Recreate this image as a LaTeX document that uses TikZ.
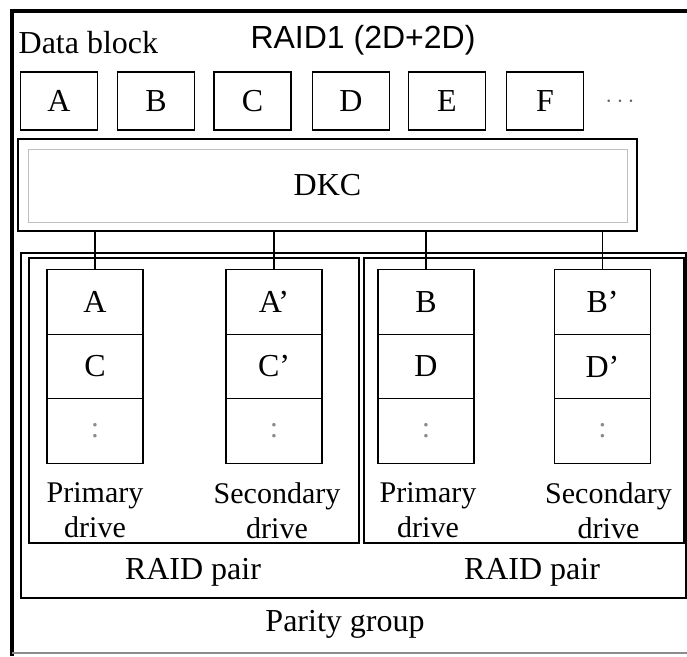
\documentclass[tikz,border=0pt]{standalone}
\usepackage{fontspec}
\setmainfont{Liberation Serif}
\newfontfamily\headfont{Liberation Sans}
\usetikzlibrary{positioning}

\begin{document}
\begin{tikzpicture}[x=1pt,y=-1pt,line width=1.3pt,
    blk/.style={draw,minimum width=77pt,minimum height=58pt,inner sep=0pt,font=\fontsize{32}{34}\selectfont},
    cell/.style={draw,minimum width=96pt,minimum height=64.5pt,inner sep=0pt,outer sep=0pt,font=\fontsize{32}{34}\selectfont},
    dotcell/.style={cell,text=black!45,font=\fontsize{30}{32}\selectfont},
    tag/.style={align=center,inner sep=0pt,font=\fontsize{30}{35}\selectfont},
    lbl/.style={inner sep=0pt,font=\fontsize{32}{34}\selectfont}]
        \useasboundingbox (0,0) rectangle (687,656);

        % frame
        \draw[line width=4pt] (12,656) -- (12,11) -- (687,11);
        \draw[black!45,line width=1.5pt] (12,653) -- (687,653);

        \node[lbl,anchor=west] (title) at (18,43) {Data block};
        \node[lbl,font=\headfont\fontsize{32}{34}\selectfont] (raid) at (363,40) {RAID1 (2D+2D)};

        % data blocks
        \node[blk] (dA) at (59,101) {A};
        \node[blk] (dB) at (156,101) {B};
        \node[blk] (dC) at (252.5,101) {C};
        \node[blk] (dD) at (351,101) {D};
        \node[blk] (dE) at (447,101) {E};
        \node[blk] (dF) at (545,101) {F};
        \node[text=black!60,font=\fontsize{26}{28}\selectfont] (more) at (620,102) {$\cdots$};

        % controller
        \draw[black!25,line width=0.6pt] (28,149) rectangle (627,222);
        \node[draw,minimum width=619pt,minimum height=92pt,inner sep=0pt,font=\fontsize{32}{34}\selectfont] (dkc) at (327.5,185) {DKC};

        % groups
        \draw (21,253) rectangle (686,598);
        \draw (29,258) rectangle (359,543);
        \draw (364,258) rectangle (684,543);

        % drives
        \node[cell] (p1a) at (95,302) {A};
        \node[cell] (p1b) [below=0pt of p1a] {C};
        \node[dotcell] (p1c) [below=0pt of p1b] {:};
        \node[cell] (s1a) at (274,302) {A’};
        \node[cell] (s1b) [below=0pt of s1a] {C’};
        \node[dotcell] (s1c) [below=0pt of s1b] {:};
        \node[cell] (p2a) at (426,302) {B};
        \node[cell] (p2b) [below=0pt of p2a] {D};
        \node[dotcell] (p2c) [below=0pt of p2b] {:};
        \node[cell] (s2a) at (602.5,302) {B’};
        \node[cell] (s2b) [below=0pt of s2a] {D’};
        \node[dotcell] (s2c) [below=0pt of s2b] {:};

        \foreach \d in {p1a,s1a,p2a,s2a}
            \draw (dkc.south -| \d.north) -- (\d.north);

        \node[tag] (p1t) [below=19pt of p1c] {Primary\\drive};
        \node[tag] (s1t) [below=19pt of s1c,xshift=3pt] {Secondary\\drive};
        \node[tag] (p2t) [below=19pt of p2c,xshift=2pt] {Primary\\drive};
        \node[tag] (s2t) [below=19pt of s2c,xshift=6pt] {Secondary\\drive};

        \node[lbl] (pair1) at (193,572) {RAID pair};
        \node[lbl] (pair2) at (532,572) {RAID pair};
        \node[lbl] (pgrp) at (345,624) {Parity group};
    \end{tikzpicture}
\end{document}
